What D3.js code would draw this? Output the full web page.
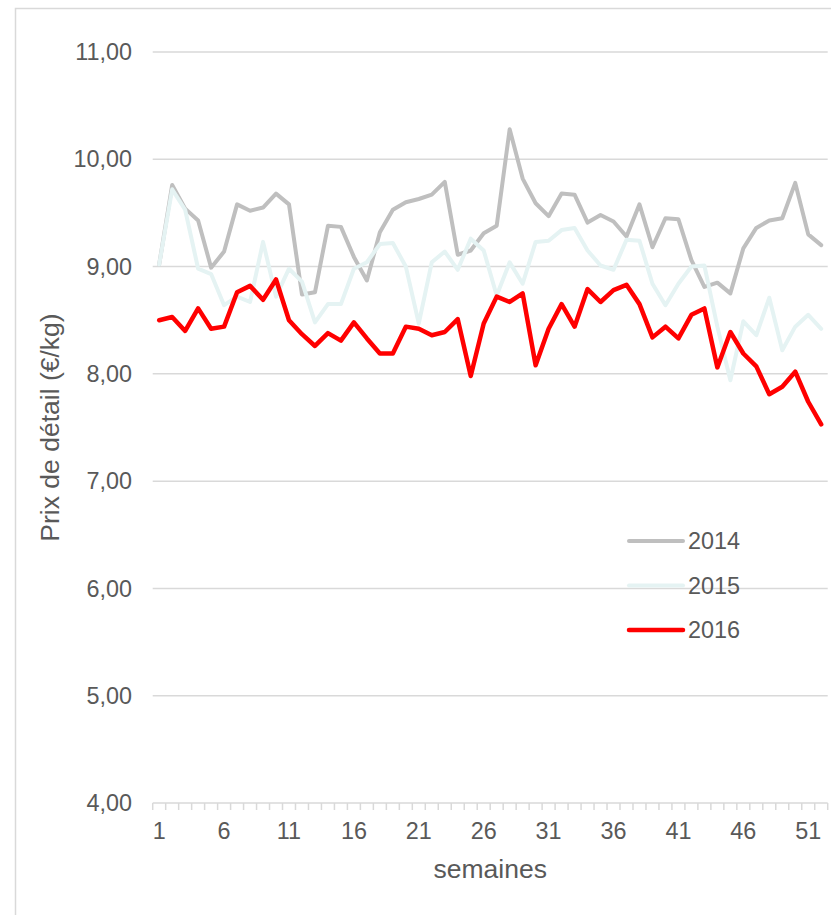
<!DOCTYPE html>
<html>
<head>
<meta charset="utf-8">
<script src="https://cdn.jsdelivr.net/npm/d3@7"></script>
<style>
  body { margin: 0; background: #fff; }
  svg { display: block; font-family: "Liberation Sans", Arial, sans-serif; }
</style>
</head>
<body>
<div id="chart"></div>
<script>
// weeks and prices
var weeks = [1,2,3,4,5,6,7,8,9,10,11,12,13,14,15,16,17,18,19,20,21,22,23,24,25,26,
             27,28,29,30,31,32,33,34,35,36,37,38,39,40,41,42,43,44,45,46,47,48,49,50,51,52];
var weekLabels = [1,6,11,16,21,26,31,36,41,46,51];
var yTicks = [5,6,7,8,9,10,11];

var v2014 = [9.02,9.76,9.54,9.43,8.99,9.14,9.58,9.52,9.55,9.68,9.58,8.74,8.76,9.38,9.37,9.09,8.87,9.32,9.53,9.60,
             9.63,9.67,9.79,9.11,9.15,9.31,9.38,10.28,9.82,9.59,9.47,9.68,9.67,9.41,9.48,9.42,9.28,9.58,9.18,9.45,
             9.44,9.06,8.81,8.85,8.75,9.17,9.36,9.43,9.45,9.78,9.30,9.20];
var v2015 = [9.02,9.72,9.53,8.98,8.93,8.64,8.72,8.67,9.23,8.72,8.98,8.86,8.48,8.65,8.65,8.98,9.04,9.21,9.22,9.00,
             8.47,9.04,9.14,8.97,9.26,9.15,8.73,9.04,8.84,9.23,9.24,9.34,9.36,9.15,9.01,8.97,9.25,9.24,8.84,8.64,
             8.84,9.00,9.01,8.44,7.94,8.49,8.36,8.71,8.22,8.44,8.55,8.42];
var v2016 = [8.50,8.53,8.40,8.61,8.42,8.44,8.76,8.82,8.69,8.88,8.50,8.37,8.26,8.38,8.31,8.48,8.33,8.19,8.19,8.44,
             8.42,8.36,8.39,8.51,7.98,8.47,8.72,8.67,8.75,8.08,8.42,8.65,8.44,8.79,8.67,8.78,8.83,8.65,8.34,8.44,
             8.33,8.55,8.61,8.06,8.39,8.19,8.07,7.81,7.88,8.02,7.74,7.53];

var seriesNames = ["2014", "2015", "2016"];
var seriesColors = ["#bfbfbf", "#e5f3f3", "#ff0000"];

var series = [v2014, v2015, v2016].map(function(vals, i) {
  return { name: seriesNames[i], color: seriesColors[i], values: vals };
});

var W = 831, H = 915;
var plotL = 152.7, plotR = 827.7, plotT = 52, plotB = 803;
var fs = 23.4;      // tick + legend labels
var fsTitle = 26.5; // axis titles

var svg = d3.select("#chart").append("svg")
  .attr("width", W)
  .attr("height", H);

// outer frame
svg.append("rect")
  .attr("x", 15.5).attr("y", 8.5)
  .attr("width", 840).attr("height", 940)
  .attr("fill", "none")
  .attr("stroke", "#d9d9d9")
  .attr("stroke-width", 1.5);

var x = d3.scaleBand().domain(weeks).range([plotL, plotR]).padding(0);
var y = d3.scaleLinear().domain([4, 11]).range([plotB, plotT]);

var fr = d3.formatLocale({ decimal: ",", thousands: " ", grouping: [3], currency: ["", "€"] });
var fmt = fr.format(".2f");

// horizontal gridlines
svg.append("g").selectAll("line")
  .data(yTicks)
  .enter().append("line")
  .attr("x1", plotL).attr("x2", plotR)
  .attr("y1", function(d) { return y(d); })
  .attr("y2", function(d) { return y(d); })
  .attr("stroke", "#d9d9d9")
  .attr("stroke-width", 1.5);

// y labels
svg.append("g").selectAll("text")
  .data([4].concat(yTicks))
  .enter().append("text")
  .attr("x", 132)
  .attr("y", function(d) { return y(d); })
  .attr("dy", "0.35em")
  .attr("text-anchor", "end")
  .attr("font-size", fs)
  .attr("fill", "#595959")
  .text(function(d) { return fmt(d); });

// x axis line + week ticks
var xAxis = d3.axisBottom(x).tickSize(7).tickFormat("");
var gx = svg.append("g")
  .attr("transform", "translate(0," + plotB + ")")
  .call(xAxis);
gx.select(".domain").remove();
// ticks sit on the category boundaries
gx.selectAll(".tick").attr("transform", function(d) { return "translate(" + x(d) + ",0)"; });
gx.selectAll(".tick line").attr("stroke", "#d9d9d9").attr("stroke-width", 1.5);
gx.append("line")
  .attr("x1", plotR).attr("x2", plotR).attr("y1", 0).attr("y2", 7)
  .attr("stroke", "#d9d9d9").attr("stroke-width", 1.5);
gx.append("line")
  .attr("x1", plotL).attr("x2", plotR).attr("y1", 0).attr("y2", 0)
  .attr("stroke", "#d9d9d9").attr("stroke-width", 1.5);

svg.append("g").selectAll("text")
  .data(weekLabels)
  .enter().append("text")
  .attr("x", function(d) { return x(d) + x.bandwidth() / 2; })
  .attr("y", 839)
  .attr("text-anchor", "middle")
  .attr("font-size", fs)
  .attr("fill", "#595959")
  .text(function(d) { return d; });

// axis titles
svg.append("text")
  .attr("x", (plotL + plotR) / 2)
  .attr("y", 878)
  .attr("text-anchor", "middle")
  .attr("font-size", fsTitle)
  .attr("fill", "#595959")
  .text("semaines");

svg.append("text")
  .attr("transform", "translate(59," + ((plotT + plotB) / 2) + ") rotate(-90)")
  .attr("text-anchor", "middle")
  .attr("font-size", fsTitle)
  .attr("fill", "#595959")
  .text("Prix de détail (€/kg)");

// lines
var line = d3.line()
  .x(function(d, i) { return x(weeks[i]) + x.bandwidth() / 2; })
  .y(function(d) { return y(d); });

svg.append("g").selectAll("path")
  .data(series)
  .enter().append("path")
  .attr("d", function(s) { return line(s.values); })
  .attr("fill", "none")
  .attr("stroke", function(s) { return s.color; })
  .attr("stroke-width", function(s) { return s.name === "2016" ? 4.5 : 4; })
  .attr("stroke-linejoin", "round")
  .attr("stroke-linecap", "round");

// legend
var leg = svg.append("g").selectAll("g")
  .data(series)
  .enter().append("g")
  .attr("transform", function(d, i) { return "translate(629," + (541 + i * 44.5) + ")"; });

leg.append("line")
  .attr("x1", 0).attr("x2", 54)
  .attr("stroke", function(d) { return d.color; })
  .attr("stroke-width", function(d) { return d.name === "2016" ? 4.5 : 4; })
  .attr("stroke-linecap", "round");

leg.append("text")
  .attr("x", 59)
  .attr("dy", "0.35em")
  .attr("font-size", fs)
  .attr("fill", "#595959")
  .text(function(d) { return d.name; });
</script>
</body>
</html>
